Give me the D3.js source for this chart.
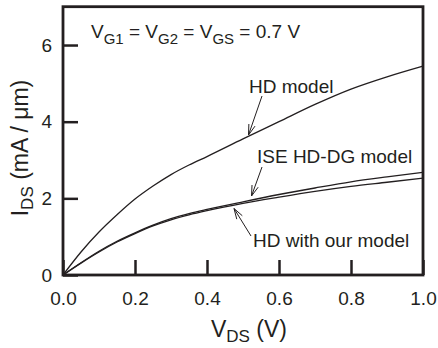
<!DOCTYPE html>
<html>
<head>
<meta charset="utf-8">
<script src="https://cdn.jsdelivr.net/npm/d3@7"></script>
<style>
  body { margin: 0; background: #fff; }
  svg text { font-family: "Liberation Sans", Arial, sans-serif; fill: #231f20; }
</style>
</head>
<body>
<svg id="chart" width="438" height="348"></svg>
<script>
// drain voltage samples (V)
const vds = [0, 0.05, 0.1, 0.15, 0.2, 0.25, 0.3, 0.35, 0.4, 0.5, 0.6, 0.7, 0.8, 0.9, 1.0];
// drain current (mA / um)
const hdModel  = [0, 0.60, 1.12, 1.57, 1.98, 2.32, 2.62, 2.87, 3.09, 3.55, 4.00, 4.45, 4.85, 5.17, 5.45];
const iseHdDg  = [0, 0.32, 0.62, 0.88, 1.10, 1.30, 1.47, 1.60, 1.71, 1.91, 2.10, 2.27, 2.43, 2.56, 2.68];
const hdOurs   = [0, 0.31, 0.60, 0.86, 1.08, 1.28, 1.44, 1.57, 1.68, 1.87, 2.03, 2.18, 2.31, 2.42, 2.53];

const xTicks = [0, 0.2, 0.4, 0.6, 0.8, 1.0];
const yTicks = [0, 2, 4, 6];

const svg = d3.select('#chart');
const ink = '#231f20';

let x = d3.scaleLinear().domain([0, 1]).range([63, 423]);
let y = d3.scaleLinear().domain([0, 7]).range([275, 6.7]);

let line = d3.line()
  .x((d, i) => x(vds[i]))
  .y(d => y(d))
  .curve(d3.curveMonotoneX);

// curves
[hdModel, iseHdDg, hdOurs].forEach(s => {
  svg.append('path')
    .attr('d', line(s))
    .attr('fill', 'none')
    .attr('stroke', ink)
    .attr('stroke-width', 1.3);
});

// inward ticks
let xAxis = d3.axisBottom(x).tickValues(xTicks).tickSize(-15).tickFormat(d3.format('.1f')).tickPadding(17);
let gx = svg.append('g').attr('transform', 'translate(0,' + y(0) + ')').call(xAxis);
let yAxis = d3.axisLeft(y).tickValues(yTicks).tickSize(-15).tickFormat(d3.format('d')).tickPadding(11);
let gy = svg.append('g').attr('transform', 'translate(' + x(0) + ',0)').call(yAxis);

[gx, gy].forEach(g => {
  g.select('.domain').remove();
  g.selectAll('line').attr('stroke', ink).attr('stroke-width', 2.5);
  g.selectAll('text').attr('font-size', 19).attr('font-family', '"Liberation Sans", Arial, sans-serif').attr('fill', ink);
});
gx.selectAll('text').attr('dy', '0.71em');

// frame
svg.append('rect')
  .attr('x', x(0)).attr('y', y(7))
  .attr('width', x(1) - x(0)).attr('height', y(0) - y(7))
  .attr('fill', 'none').attr('stroke', ink).attr('stroke-width', 2.8);

// axis titles
let xt = svg.append('text').attr('x', 249).attr('y', 337).attr('text-anchor', 'middle').attr('font-size', 23);
xt.append('tspan').text('V');
xt.append('tspan').attr('font-size', 17).attr('dy', 5).text('DS');
xt.append('tspan').attr('dy', -5).text(' (V)');

let yt = svg.append('text').attr('transform', 'translate(28,148) rotate(-90)').attr('text-anchor', 'middle').attr('font-size', 23);
yt.append('tspan').text('I');
yt.append('tspan').attr('font-size', 17).attr('dy', 5).text('DS');
yt.append('tspan').attr('dy', -5).text(' (mA / \u03bcm)');

// bias condition
let bias = svg.append('text').attr('x', 91).attr('y', 38).attr('font-size', 19);
[['V', 'G1', ' = '], ['V', 'G2', ' = '], ['V', 'GS', ' = 0.7 V']].forEach(p => {
  bias.append('tspan').attr('dy', 0).text(p[0]);
  bias.append('tspan').attr('font-size', 15).attr('dy', 6).text(p[1]);
  bias.append('tspan').attr('dy', -6).text(p[2]);
});

// curve labels with arrows
const labels = ['HD model', 'ISE HD-DG model', 'HD with our model'];
const labelAt = [[249, 93], [257, 163], [253, 247]];
const arrows = [[[262, 96], [248.5, 135]], [[262, 167], [251.5, 196]], [[251, 236], [234, 208.5]]];

labels.forEach((t, i) => {
  svg.append('text').attr('x', labelAt[i][0]).attr('y', labelAt[i][1]).attr('font-size', 19).text(t);
  let a = arrows[i], p0 = a[0], p1 = a[1];
  let ang = Math.atan2(p1[1] - p0[1], p1[0] - p0[0]);
  let head = 11, spread = 0.3;
  let h1 = [p1[0] - head * Math.cos(ang - spread), p1[1] - head * Math.sin(ang - spread)];
  let h2 = [p1[0] - head * Math.cos(ang + spread), p1[1] - head * Math.sin(ang + spread)];
  svg.append('path')
    .attr('d', 'M' + p0 + 'L' + p1 + 'M' + h1 + 'L' + p1 + 'L' + h2)
    .attr('fill', 'none').attr('stroke', ink).attr('stroke-width', 1);
});
</script>
</body>
</html>
